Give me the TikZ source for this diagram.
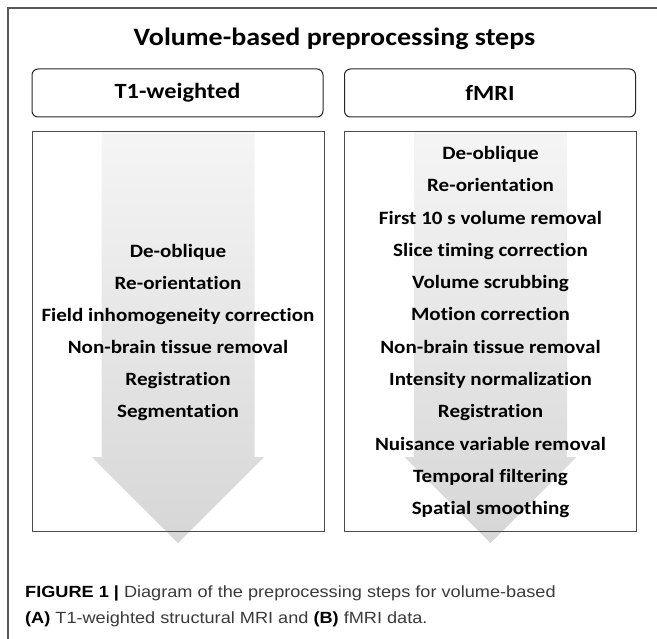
\documentclass[tikz,border=0pt]{standalone}
\usepackage{fontspec}
\setmainfont{Carlito}[FakeStretch=1.12, Ligatures=CommonOff]
\newfontfamily\capfont{Liberation Sans}[FakeStretch=1.12]
\usetikzlibrary{calc,positioning}
\usepackage{xcolor}
\definecolor{framegray}{HTML}{595959}
\definecolor{captxt}{HTML}{3A3A3A}
\begin{document}
\begin{tikzpicture}[x=1pt, y=-1pt,
hdr/.style={draw=black!85, line width=1pt, rounded corners=6pt, minimum width=291pt, minimum height=48pt, inner sep=0pt, font=\bfseries\fontsize{21.7}{26}\selectfont},
lst/.style={draw=black!70, line width=1pt, minimum width=292pt, minimum height=400pt, inner sep=0pt},
itm/.style={anchor=base, inner sep=0pt, font=\bfseries\fontsize{18.8}{22}\selectfont},
arr/.style={top color=black!4, bottom color=black!16},
capline/.style={anchor=base west, inner sep=0pt, text=captxt, font=\capfont\fontsize{16.2}{19}\selectfont}]
\useasboundingbox (0,0) rectangle (657,639);
\draw[framegray, line width=1.3pt] (8,639) -- (8,8) -- (657,8);
\node[anchor=base, inner sep=0pt, font=\bfseries\fontsize{25}{30}\selectfont] (title) at (334.5,46) {Volume-based preprocessing steps};
% column heads
\node[hdr] (t1hdr) at (177.5,93) {T1-weighted};
\node[hdr] (fmrihdr) at (490,93) {fMRI};
\coordinate (t1top) at (178,130.6);
\coordinate (fmritop) at (490.5,130.6);
% big arrows
\foreach \b in {t1top,fmritop}{\shade[arr] ($(\b)+(-76.5,0)$) -- ($(\b)+(76.5,0)$) -- ($(\b)+(76.5,326.5)$) -- ($(\b)+(86,326.5)$) -- ($(\b)+(0,412.5)$) -- ($(\b)+(-86,326.5)$) -- ($(\b)+(-76.5,326.5)$) -- cycle;}
\node[lst, below=0pt of t1top] (t1box) {};
\node[lst, below=0pt of fmritop] (fmribox) {};
% steps
\foreach \t [count=\i from 0] in {De-oblique, Re-orientation, Field inhomogeneity correction, Non-brain tissue removal, Registration, Segmentation}
{\node[itm] (t1s\i) at ($(t1box.center)+(0,{(\i-2.5)*32+6})$) {\t};}
\foreach \t [count=\i from 0] in {De-oblique, Re-orientation, First 10 s volume removal, Slice timing correction, Volume scrubbing, Motion correction, Non-brain tissue removal, Intensity normalization, Registration, Nuisance variable removal, Temporal filtering, Spatial smoothing}
{\node[itm] (fmris\i) at ($(fmribox.center)+(0,{(\i-5.5)*32.3+6})$) {\t};}
% caption
\node[capline] (cap1) at (25,597) {\textcolor{black}{\bfseries FIGURE 1 |} Diagram of the preprocessing steps for volume-based};
\node[capline] (cap2) at ($(cap1.base west)+(0,26.5)$) {\textcolor{black}{\bfseries (A)} T1-weighted structural MRI and \textcolor{black}{\bfseries (B)} fMRI data.};
\end{tikzpicture}
\end{document}
